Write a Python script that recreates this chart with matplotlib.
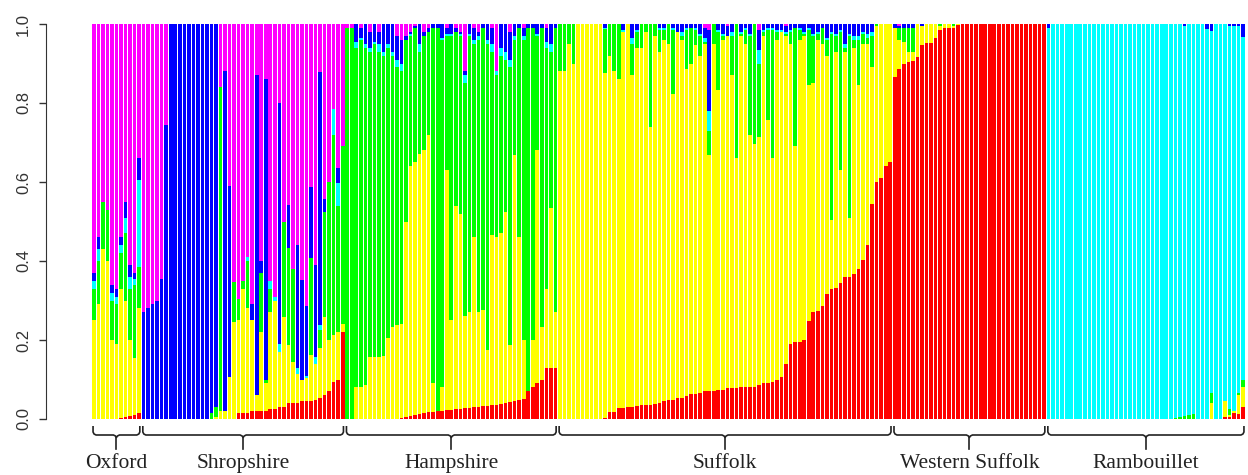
import numpy as np
import matplotlib.pyplot as plt

# STRUCTURE-style admixture plot, 6 clusters (rainbow colours), bars sorted within breed
# every list holds the cumulative top of a cluster for each animal (pink fills to 1.0)

groups = ["Oxford", "Shropshire", "Hampshire", "Suffolk", "Western Suffolk", "Rambouillet"]
colors = ["#FF0000", "#FFFF00", "#00FF00", "#00FFFF", "#0000FF", "#FF00FF"]

# Oxford (11)
ox_red = [0, 0, 0, 0, 0, 0, 0.003, 0.005, 0.007, 0.01, 0.015]
ox_yellow = [0.25, 0.29, 0.43, 0.40, 0.20, 0.19, 0.33, 0.30, 0.20, 0.155, 0.28]
ox_green = [0.33, 0.40, 0.55, 0.53, 0.30, 0.29, 0.42, 0.47, 0.33, 0.34, 0.385]
ox_cyan = [0.35, 0.43, 0.55, 0.53, 0.32, 0.31, 0.44, 0.51, 0.36, 0.355, 0.605]
ox_blue = [0.37, 0.46, 0.55, 0.53, 0.34, 0.33, 0.46, 0.55, 0.39, 0.37, 0.66]

# Shropshire (45)
sh_red = [0, 0, 0, 0, 0, 0, 0, 0, 0, 0, 0, 0, 0, 0, 0, 0, 0, 0, 0, 0, 0,
          0.015, 0.015, 0.015, 0.02, 0.02, 0.02, 0.02, 0.025, 0.025, 0.03, 0.03, 0.04, 0.04,
          0.04, 0.045, 0.045, 0.045, 0.048, 0.053, 0.06, 0.07, 0.094, 0.1, 0.221]
sh_yellow = [0, 0, 0, 0, 0, 0, 0, 0, 0, 0, 0, 0, 0, 0, 0, 0, 0.005, 0.02, 0.02, 0.107, 0.246,
             0.25, 0.33, 0.28, 0.25, 0.06, 0.22, 0.09, 0.27, 0.30, 0.17, 0.259, 0.188, 0.145,
             0.115, 0.098, 0.103, 0.162, 0.14, 0.18, 0.259, 0.2, 0.213, 0.22, 0.24]
sh_green = [0, 0, 0, 0, 0, 0, 0, 0, 0, 0, 0, 0, 0, 0, 0, 0.015, 0.03, 0.84, 0.02, 0.107, 0.348,
            0.305, 0.35, 0.40, 0.25, 0.06, 0.37, 0.10, 0.33, 0.30, 0.17, 0.50, 0.432, 0.381,
            0.115, 0.098, 0.103, 0.407, 0.14, 0.225, 0.525, 0.6, 0.719, 0.538, 0.69]
sh_cyan = [0, 0, 0, 0, 0, 0, 0, 0, 0, 0, 0, 0, 0, 0, 0, 0.015, 0.03, 0.84, 0.02, 0.107, 0.348,
           0.305, 0.35, 0.41, 0.25, 0.06, 0.37, 0.10, 0.35, 0.31, 0.19, 0.50, 0.432, 0.381,
           0.128, 0.098, 0.11, 0.407, 0.158, 0.238, 0.525, 0.6, 0.786, 0.597, 0.69]
sh_blue = [0.27, 0.28, 0.29, 0.30, 0.355, 0.745, 1.0, 1.0, 1.0, 1.0, 1.0, 1.0, 1.0, 1.0, 1.0,
           1.0, 1.0, 0.84, 0.88, 0.59, 0.348, 0.305, 0.35, 0.41, 0.29, 0.87, 0.40, 0.86, 0.35,
           0.31, 0.80, 0.50, 0.541, 0.381, 0.44, 0.352, 0.285, 0.588, 0.39, 0.879, 0.558, 0.6,
           0.786, 0.635, 0.69]

# Hampshire (47)
ha_red = [0, 0, 0, 0, 0, 0, 0, 0, 0, 0, 0, 0, 0.003, 0.005, 0.007, 0.01, 0.012, 0.015, 0.017,
          0.018, 0.02, 0.02, 0.022, 0.023, 0.025, 0.025, 0.027, 0.028, 0.03, 0.03, 0.032, 0.033,
          0.035, 0.036, 0.038, 0.04, 0.042, 0.045, 0.048, 0.05, 0.07, 0.08, 0.09, 0.1, 0.128,
          0.128, 0.128]
ha_yellow = [0.0, 0.0, 0.08, 0.08, 0.085, 0.158, 0.158, 0.158, 0.16, 0.204, 0.234, 0.238, 0.24,
             0.5, 0.64, 0.65, 0.67, 0.68, 0.72, 0.09, 0.01, 0.08, 0.63, 0.25, 0.54, 0.52, 0.26,
             0.27, 0.46, 0.272, 0.276, 0.174, 0.466, 0.462, 0.47, 0.525, 0.188, 0.668, 0.46,
             0.2, 0.05, 0.2, 0.68, 0.234, 0.33, 0.534, 0.27]
ha_green = [0.99, 0.99, 0.94, 0.96, 0.94, 0.93, 0.95, 0.93, 0.92, 0.94, 0.92, 0.89, 0.88, 0.96,
            0.97, 0.99, 0.93, 0.97, 0.98, 0.99, 0.99, 0.96, 0.97, 0.97, 0.98, 0.97, 0.85, 0.97,
            0.95, 0.96, 0.99, 0.95, 0.93, 0.87, 0.92, 0.91, 0.89, 0.96, 0.99, 0.96, 0.99, 0.99,
            0.97, 0.99, 0.94, 0.93, 0.99]
ha_cyan = [0.99, 0.99, 0.955, 0.965, 0.95, 0.94, 0.955, 0.95, 0.93, 0.95, 0.93, 0.91, 0.90,
           0.96, 0.975, 0.99, 0.95, 0.97, 0.98, 0.99, 0.99, 0.965, 0.975, 0.975, 0.98, 0.975,
           0.87, 0.975, 0.96, 0.97, 0.99, 0.96, 0.95, 0.88, 0.94, 0.93, 0.91, 0.97, 0.99, 0.97,
           0.99, 0.99, 0.975, 0.99, 0.955, 0.95, 0.99]
ha_blue = [0.99, 0.99, 1.0, 0.99, 1.0, 0.98, 1.0, 0.98, 1.0, 1.0, 1.0, 0.97, 0.96, 0.97, 0.98,
           0.995, 1.0, 0.98, 0.99, 1.0, 1.0, 1.0, 0.99, 1.0, 0.99, 0.98, 0.88, 1.0, 0.99, 0.98,
           1.0, 1.0, 0.99, 0.88, 1.0, 1.0, 0.98, 1.0, 1.0, 0.99, 1.0, 1.0, 1.0, 1.0, 0.99, 1.0,
           1.0]

# Suffolk (74)
su_red = [0, 0, 0, 0, 0, 0, 0, 0, 0, 0, 0.003, 0.018, 0.018, 0.027, 0.028, 0.03, 0.031, 0.033,
          0.035, 0.035, 0.036, 0.038, 0.04, 0.045, 0.048, 0.048, 0.053, 0.053, 0.057, 0.063,
          0.063, 0.067, 0.071, 0.071, 0.071, 0.073, 0.073, 0.078, 0.078, 0.078, 0.08, 0.08,
          0.08, 0.08, 0.085, 0.09, 0.09, 0.094, 0.098, 0.107, 0.138, 0.19, 0.194, 0.196, 0.2,
          0.248, 0.27, 0.273, 0.286, 0.316, 0.33, 0.332, 0.345, 0.36, 0.36, 0.366, 0.381,
          0.402, 0.44, 0.545, 0.6, 0.61, 0.64, 0.65]
su_yellow = [0.88, 0.88, 0.95, 0.90, 1.0, 1.0, 1.0, 1.0, 1.0, 1.0, 0.875, 0.92, 0.88, 0.86,
             0.98, 1.0, 0.87, 0.94, 0.94, 0.98, 0.74, 0.97, 0.93, 0.96, 0.95, 0.824, 0.98, 0.96,
             0.887, 0.90, 0.947, 0.92, 0.95, 0.668, 0.95, 0.833, 0.96, 0.97, 0.87, 0.66, 0.97,
             0.95, 0.72, 0.697, 0.715, 0.97, 0.757, 0.66, 0.96, 0.98, 0.97, 0.95, 0.69, 0.96,
             0.97, 0.845, 0.85, 0.96, 0.95, 0.92, 0.504, 0.93, 0.63, 0.93, 0.51, 0.94, 0.846,
             0.95, 0.95, 0.89, 0.995, 1.0, 1.0, 1.0]
su_green = [1.0, 1.0, 1.0, 1.0, 1.0, 1.0, 1.0, 1.0, 1.0, 1.0, 0.987, 1.0, 1.0, 1.0, 0.98, 1.0,
            0.95, 0.98, 1.0, 1.0, 1.0, 1.0, 0.985, 0.985, 1.0, 0.985, 0.97, 0.97, 0.985, 0.99,
            0.985, 0.97, 0.955, 0.73, 1.0, 0.98, 0.97, 0.96, 0.97, 1.0, 0.975, 0.985, 0.97, 1.0,
            0.90, 0.98, 0.985, 0.985, 0.98, 0.98, 0.975, 0.98, 0.99, 0.985, 0.975, 0.985, 0.97,
            0.975, 0.99, 0.96, 0.975, 0.97, 0.98, 0.94, 0.97, 0.96, 0.96, 0.975, 0.965, 0.97,
            1.0, 1.0, 1.0, 1.0]
su_cyan = [1.0, 1.0, 1.0, 1.0, 1.0, 1.0, 1.0, 1.0, 1.0, 1.0, 0.99, 1.0, 1.0, 1.0, 0.985, 1.0,
           0.965, 0.985, 1.0, 1.0, 1.0, 1.0, 0.99, 0.99, 1.0, 0.99, 0.98, 0.98, 0.99, 0.99, 0.99,
           0.975, 0.965, 0.78, 1.0, 0.985, 0.975, 0.97, 0.98, 1.0, 0.98, 0.99, 0.975, 1.0, 0.935,
           0.985, 0.99, 0.99, 0.985, 0.985, 0.98, 0.985, 0.99, 0.99, 0.98, 0.99, 0.975, 0.98,
           0.99, 0.965, 0.98, 0.975, 0.985, 0.95, 0.975, 0.97, 0.97, 0.98, 0.975, 0.98, 1.0,
           1.0, 1.0, 1.0]
su_blue = [1.0, 1.0, 1.0, 1.0, 1.0, 1.0, 1.0, 1.0, 1.0, 1.0, 1.0, 1.0, 1.0, 1.0, 1.0, 1.0, 1.0,
           1.0, 1.0, 1.0, 1.0, 1.0, 1.0, 1.0, 1.0, 1.0, 1.0, 1.0, 1.0, 1.0, 1.0, 1.0, 0.99, 0.985,
           1.0, 1.0, 1.0, 0.995, 1.0, 1.0, 1.0, 1.0, 1.0, 1.0, 0.985, 1.0, 1.0, 1.0, 1.0, 1.0,
           0.995, 1.0, 1.0, 1.0, 1.0, 1.0, 1.0, 1.0, 1.0, 1.0, 1.0, 1.0, 1.0, 1.0, 1.0, 1.0, 1.0,
           1.0, 1.0, 1.0, 1.0, 1.0, 1.0, 1.0]

# Western Suffolk (34)
ws_red = [0.867, 0.887, 0.90, 0.905, 0.906, 0.917, 0.947, 0.953, 0.953, 0.964, 0.985, 0.989,
          0.99, 0.99, 0.998, 1.0, 1.0, 1.0, 1.0, 1.0, 1.0, 1.0, 1.0, 1.0, 1.0, 1.0, 1.0, 1.0,
          1.0, 1.0, 1.0, 1.0, 1.0, 1.0]
ws_yellow = [0.99, 0.96, 0.955, 0.93, 0.93, 1.0, 0.995, 1.0, 1.0, 1.0, 0.995, 1.0, 1.0, 0.995,
             1.0, 1.0, 1.0, 1.0, 1.0, 1.0, 1.0, 1.0, 1.0, 1.0, 1.0, 1.0, 1.0, 1.0, 1.0, 1.0,
             1.0, 1.0, 1.0, 1.0]
ws_green = [0.99, 0.99, 0.99, 0.99, 0.99, 1.0, 0.995, 1.0, 1.0, 1.0, 1.0, 1.0, 1.0, 1.0, 1.0,
            1.0, 1.0, 1.0, 1.0, 1.0, 1.0, 1.0, 1.0, 1.0, 1.0, 1.0, 1.0, 1.0, 1.0, 1.0, 1.0,
            1.0, 1.0, 1.0]
ws_cyan = [0.99, 0.99, 0.99, 0.99, 0.99, 1.0, 0.995, 1.0, 1.0, 1.0, 1.0, 1.0, 1.0, 1.0, 1.0,
           1.0, 1.0, 1.0, 1.0, 1.0, 1.0, 1.0, 1.0, 1.0, 1.0, 1.0, 1.0, 1.0, 1.0, 1.0, 1.0,
           1.0, 1.0, 1.0]
ws_blue = [1.0, 0.995, 1.0, 1.0, 1.0, 1.0, 1.0, 1.0, 1.0, 1.0, 1.0, 1.0, 1.0, 1.0, 1.0, 1.0,
           1.0, 1.0, 1.0, 1.0, 1.0, 1.0, 1.0, 1.0, 1.0, 1.0, 1.0, 1.0, 1.0, 1.0, 1.0, 1.0, 1.0,
           1.0]

# Rambouillet (44)
rb_red = [0, 0, 0, 0, 0, 0, 0, 0, 0, 0, 0, 0, 0, 0, 0, 0, 0, 0, 0, 0, 0, 0, 0, 0, 0, 0, 0, 0,
          0, 0, 0, 0, 0, 0, 0, 0, 0, 0, 0, 0.005, 0.005, 0.015, 0.013, 0.03]
rb_yellow = [0, 0, 0, 0, 0, 0, 0, 0, 0, 0, 0, 0, 0, 0, 0, 0, 0, 0, 0, 0, 0, 0, 0, 0, 0, 0, 0,
             0, 0, 0, 0, 0, 0, 0, 0, 0, 0.04, 0, 0, 0.045, 0.01, 0.02, 0.06, 0.08]
rb_green = [0, 0, 0, 0, 0, 0, 0, 0, 0, 0, 0, 0, 0, 0, 0, 0, 0, 0, 0, 0, 0, 0, 0, 0, 0, 0, 0,
            0, 0.003, 0.005, 0.007, 0.01, 0.012, 0, 0, 0, 0.066, 0, 0, 0.045, 0.025, 0.02,
            0.065, 0.1]
rb_cyan = [0.99, 1.0, 1.0, 1.0, 1.0, 1.0, 1.0, 1.0, 1.0, 1.0, 1.0, 1.0, 1.0, 1.0, 1.0, 1.0,
           1.0, 1.0, 1.0, 1.0, 1.0, 1.0, 1.0, 1.0, 1.0, 1.0, 1.0, 1.0, 1.0, 1.0, 0.995, 1.0,
           1.0, 1.0, 1.0, 0.987, 0.983, 1.0, 1.0, 1.0, 0.995, 0.995, 0.995, 0.966]
rb_blue = [1.0, 1.0, 1.0, 1.0, 1.0, 1.0, 1.0, 1.0, 1.0, 1.0, 1.0, 1.0, 1.0, 1.0, 1.0, 1.0, 1.0,
           1.0, 1.0, 1.0, 1.0, 1.0, 1.0, 1.0, 1.0, 1.0, 1.0, 1.0, 1.0, 1.0, 1.0, 1.0, 1.0, 1.0,
           1.0, 1.0, 1.0, 1.0, 1.0, 1.0, 1.0, 1.0, 1.0, 1.0]

per_group = [
    (ox_red, ox_yellow, ox_green, ox_cyan, ox_blue),
    (sh_red, sh_yellow, sh_green, sh_cyan, sh_blue),
    (ha_red, ha_yellow, ha_green, ha_cyan, ha_blue),
    (su_red, su_yellow, su_green, su_cyan, su_blue),
    (ws_red, ws_yellow, ws_green, ws_cyan, ws_blue),
    (rb_red, rb_yellow, rb_green, rb_cyan, rb_blue),
]
sizes = [len(g[0]) for g in per_group]

tops = np.vstack([np.concatenate([np.array(g[k], float) for g in per_group]) for k in range(5)])
tops = np.vstack([tops, np.ones(tops.shape[1])])
tops = np.clip(np.maximum.accumulate(tops, axis=0), 0, 1)
bottoms = np.vstack([np.zeros(tops.shape[1]), tops[:-1]])
heights = tops - bottoms
n = tops.shape[1]
x = np.arange(n)

W, H = 1248, 475
fig = plt.figure(figsize=(W / 100, H / 100), dpi=100)
ax = fig.add_axes([92 / W, (H - 419) / H, (1245 - 92) / W, (419 - 24) / H])

for k in range(6):
    ax.bar(x, heights[k], bottom=bottoms[k], width=0.8, color=colors[k], linewidth=0)

ax.set_xlim(-0.4, n - 0.6)
ax.set_ylim(0, 1)
ax.set_xticks([])
for s in ["top", "right", "bottom"]:
    ax.spines[s].set_visible(False)
ax.spines["left"].set_position(("outward", 33))
ax.spines["left"].set_color("#333333")
ax.set_yticks([0, 0.2, 0.4, 0.6, 0.8, 1.0])
ax.set_yticklabels(["0.0", "0.2", "0.4", "0.6", "0.8", "1.0"], rotation=90, va="center",
                   fontfamily="Liberation Sans", fontsize=12, color="#333333")
ax.tick_params(axis="y", length=5, width=1, color="#333333", pad=6)

# braces under each breed, drawn in pixel coordinates on an overlay
ov = fig.add_axes([0, 0, 1, 1])
ov.set_xlim(0, W)
ov.set_ylim(H, 0)
ov.axis("off")
fig.canvas.draw()
start = 0
for name, size in zip(groups, sizes):
    x0 = ax.transData.transform((start - 0.5, 0))[0] + 1.5
    x1 = ax.transData.transform((start + size - 0.5, 0))[0] - 1.5
    xc = (x0 + x1) / 2
    yl = 435
    bx = [x0, x0, x0 + 1, x0 + 3, xc - 3, xc - 1, xc, xc + 1, xc + 3, x1 - 3, x1 - 1, x1, x1]
    by = [426, 432, 434, yl, yl, yl + 1, yl + 2.5, yl + 1, yl, yl, 434, 432, 426]
    ov.plot(bx, by, color="#222222", lw=1.2, solid_capstyle="butt")
    ov.plot([xc, xc], [yl + 2, 449], color="#222222", lw=1.2)
    ov.text(xc, 468, name, ha="center", va="baseline", fontsize=15.5,
            fontfamily="Liberation Serif", color="#222222")
    start += size

fig.savefig("out.png", dpi=100)
